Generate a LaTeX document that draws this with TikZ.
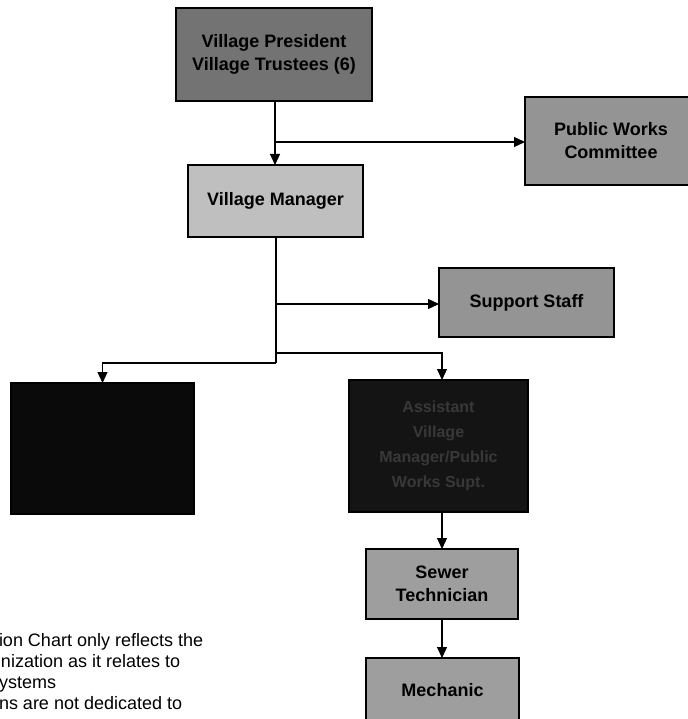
\documentclass[tikz,border=0pt]{standalone}
\usepackage{fontspec}
\setmainfont{Liberation Sans}
\usetikzlibrary{arrows.meta}

\begin{document}
\begin{tikzpicture}[x=1pt,y=-1pt]%

\useasboundingbox (0,0) rectangle (687,719);

      \tikzstyle{box}=[draw,line width=1.6pt,inner sep=0,outer sep=0,align=center,
                       font=\fontsize{18}{23}\selectfont\bfseries]
      \tikzstyle{arr}=[line width=1.2pt,-{Triangle[length=11pt,width=10pt]}]
      \tikzstyle{ln}=[line width=1.2pt]

\node[box,fill=black!55,minimum width=196,minimum height=93] (pres) at (274,54.5)
     {Village President\\Village Trustees (6)};
\node[box,fill=black!42,minimum width=172,minimum height=88] (pwc) at (611,141)
     {Public Works\\Committee};
\node[box,fill=black!25,minimum width=175,minimum height=72] (mgr) at (275.5,201)
     {Village Manager};
\node[box,fill=black!42,minimum width=175,minimum height=69] (staff) at (526.5,302.5)
     {Support Staff};

\node[box,fill=black!96,minimum width=183,minimum height=131] (ops) at (102.5,448.5) {};
\node[box,fill=black!92,text=black!78,minimum width=179,minimum height=132,
      font=\fontsize{16}{25}\selectfont\bfseries] (supt) at (438.5,446)
     {Assistant\\Village\\Manager/Public\\Works Supt.};

\node[box,fill=black!38,minimum width=152,minimum height=70] (sewer) at (442,584)
     {Sewer\\Technician};
\node[box,fill=black!38,minimum width=153,minimum height=64] (mech) at (442.5,690)
     {Mechanic};

% branch points
\coordinate (b1) at (275,142);
\coordinate (b2) at (276,304);
\coordinate (b3) at (276,353);
\coordinate (b4) at (276,363);

\draw[arr] (pres.south -| b1) -- (b1 |- mgr.north);
\draw[arr] (b1) -- (b1 -| pwc.west);
\draw[ln] (mgr.south -| b2) -- (b4);
\draw[arr] (b2) -- (b2 -| staff.west);
\draw[arr] (b3) -- (b3 -| sewer.north) -- (sewer.north |- supt.north);
\draw[arr] (b4) -- (b4 -| ops.north) -- (ops.north);
\draw[arr] (sewer.north |- supt.south) -- (sewer.north);
\draw[arr] (sewer.south) -- (sewer.south |- mech.north);

      \tikzstyle{every node}=[inner sep=0,outer sep=0,anchor=base west,
                              font=\fontsize{18}{21}\selectfont]
\node (n1) at (-1,646) {ion Chart only reflects the};
\node (n2) at (1,667) {nization as it relates to};
\node (n3) at (-1,688) {ystems};
\node (n4) at (-1,709) {ns are not dedicated to};

\end{tikzpicture}
\end{document}
